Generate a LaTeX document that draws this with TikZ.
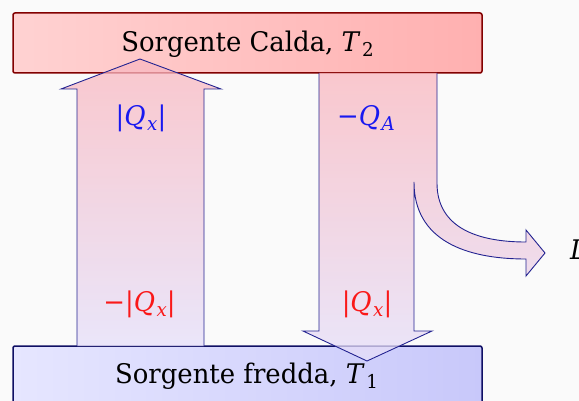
\documentclass[tikz,border=0pt]{standalone}
\usepackage{fontspec}
\setmainfont{DejaVu Serif}[FakeStretch=0.96]
\newcommand\mysub[1]{\kern1.5pt\raisebox{-5pt}{\fontsize{19}{19}\selectfont #1}}
\definecolor{bg}{RGB}{250,250,250}
\definecolor{hotline}{RGB}{130,0,0}
\definecolor{hotL}{RGB}{255,210,210}
\definecolor{hotR}{RGB}{255,176,176}
\definecolor{coldline}{RGB}{15,15,100}
\definecolor{coldL}{RGB}{230,230,255}
\definecolor{coldR}{RGB}{200,200,250}
\definecolor{arrline}{RGB}{35,35,145}
\definecolor{arrT}{RGB}{250,183,191}
\definecolor{arrB}{RGB}{229,223,250}
\definecolor{lblue}{RGB}{25,25,240}
\definecolor{lred}{RGB}{250,25,25}
\tikzset{
  hotbox/.style={draw=hotline, line width=1.5pt, rounded corners=2pt, left color=hotL, right color=hotR},
  coldbox/.style={draw=coldline, line width=1.5pt, rounded corners=2pt, left color=coldL, right color=coldR},
  arrfill/.style={top color=arrT, bottom color=arrB, fill opacity=0.75, draw=none},
  arrdraw/.style={draw=arrline, line width=0.9pt, line join=miter},
  lbl/.style={inner sep=0pt, anchor=base},
}
\begin{document}
\begin{tikzpicture}[x=1pt,y=-1pt, font=\fontsize{27}{32}\selectfont]
\useasboundingbox[fill=bg] (0,0) rectangle (579,401);
% boxes
\path[hotbox] (13,13) rectangle (482,73);
\path[coldbox] (13,346) rectangle (482,410);
\node[lbl] (hot) at (247.5,52) {Sorgente Calda, \textit{T}\mysub{2}};
\node[lbl] (cold) at (246.5,383) {Sorgente fredda, \textit{T}\mysub{1}};
% up arrow
\path[arrfill] (77,346) -- (77,89) -- (61,89) -- (140,59) -- (221,89) -- (204,89) -- (204,346) -- cycle;
\draw[arrdraw] (77,346) -- (77,89) -- (61,89) -- (140,59) -- (221,89) -- (204,89) -- (204,346);
% down arrow with branch
\path[arrfill] (319,73) -- (319,331) -- (303,331) -- (367,361) -- (432,331) -- (414,331) -- (414,182)
  .. controls (414,240) and (465,259) .. (526,259) -- (526,276) -- (545,253) -- (526,230) -- (526,242)
  .. controls (478,242) and (437,228) .. (437,183) -- (437,73) -- cycle;
\draw[arrdraw] (319,73) -- (319,331) -- (303,331) -- (367,361) -- (432,331) -- (414,331) -- (414,182)
  .. controls (414,240) and (465,259) .. (526,259) -- (526,276) -- (545,253) -- (526,230) -- (526,242)
  .. controls (478,242) and (437,228) .. (437,183) -- (437,73);
% labels
\node[lbl, text=lblue] (qx1) at (141,126) {|\textit{Q}\mysub{\textit{x}}|};
\node[lbl, text=lblue] (qa) at (366,126) {−\textit{Q}\mysub{\textit{A}}};
\node[lbl, text=lred] (mqx) at (139.5,312) {−|\textit{Q}\mysub{\textit{x}}|};
\node[lbl, text=lred] (qx2) at (367,312) {|\textit{Q}\mysub{\textit{x}}|};
\node[lbl, anchor=base west] (L) at (570,260) {\textit{L}};
\end{tikzpicture}
\end{document}
